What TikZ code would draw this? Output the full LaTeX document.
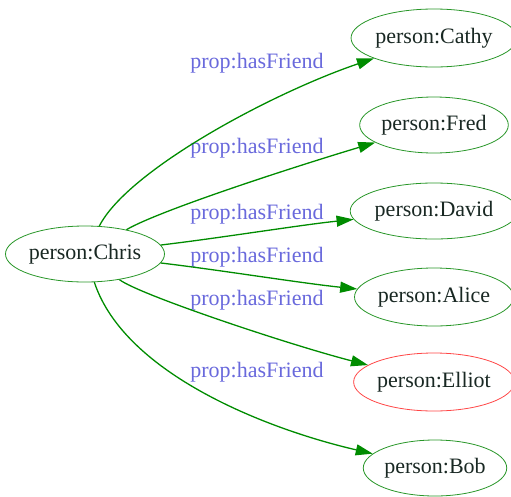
\documentclass[tikz,border=0pt]{standalone}
\usepackage{fontspec}
\setmainfont{Liberation Serif}
\usetikzlibrary{shapes.geometric,arrows.meta}
\definecolor{edgegreen}{RGB}{0,140,0}
\definecolor{nodegreen}{RGB}{40,150,40}
\definecolor{nodered}{RGB}{255,70,70}
\definecolor{labelblue}{RGB}{105,105,220}
\definecolor{textdark}{RGB}{25,40,35}
\tikzset{
  person/.style={ellipse, draw=nodegreen, line width=0.8pt, inner sep=0pt,
    text=textdark, font=\fontsize{22}{26}\selectfont},
  flagged/.style={person, draw=nodered},
  rel/.style={text=labelblue, font=\fontsize{22}{26}\selectfont, inner sep=0pt},
  friend/.style={draw=edgegreen, line width=1.3pt,
    -{Triangle[length=17pt,width=11pt]}}
}
\begin{document}
\begin{tikzpicture}[x=1pt,y=-1pt]
\useasboundingbox (0,0) rectangle (511,496);
% people
\node[person, minimum width=154pt, minimum height=56pt] (chris) at (85,254) {person:Chris};
\node[person, minimum width=152pt, minimum height=58pt] (cathy) at (434,38) {person:Cathy};
\node[person, minimum width=142pt, minimum height=56pt] (fred) at (434,125) {person:Fred};
\node[person, minimum width=152pt, minimum height=56pt] (david) at (434,211) {person:David};
\node[person, minimum width=152pt, minimum height=58pt] (alice) at (434,297) {person:Alice};
\node[flagged, minimum width=160pt, minimum height=58pt] (elliot) at (434,382) {person:Elliot};
\node[person, minimum width=134pt, minimum height=56pt] (bob) at (435,468) {person:Bob};
% relation labels
\node[rel] (l1) at (257,63) {prop:hasFriend};
\node[rel] (l2) at (257,148) {prop:hasFriend};
\node[rel] (l3) at (257,214) {prop:hasFriend};
\node[rel] (l4) at (257,257) {prop:hasFriend};
\node[rel] (l5) at (257,300) {prop:hasFriend};
\node[rel] (l6) at (257,372) {prop:hasFriend};
% friendship edges
\draw[friend] (chris) .. controls (128,170) and (272,93) .. (cathy);
\draw[friend] (chris) .. controls (160,210) and (300,165) .. (fred);
\draw[friend] (chris) .. controls (220,238) and (300,225) .. (david);
\draw[friend] (chris) .. controls (220,270) and (300,283) .. (alice);
\draw[friend] (chris) .. controls (140,295) and (290,345) .. (elliot);
\draw[friend] (chris) .. controls (125,375) and (270,430) .. (bob);
\end{tikzpicture}
\end{document}
